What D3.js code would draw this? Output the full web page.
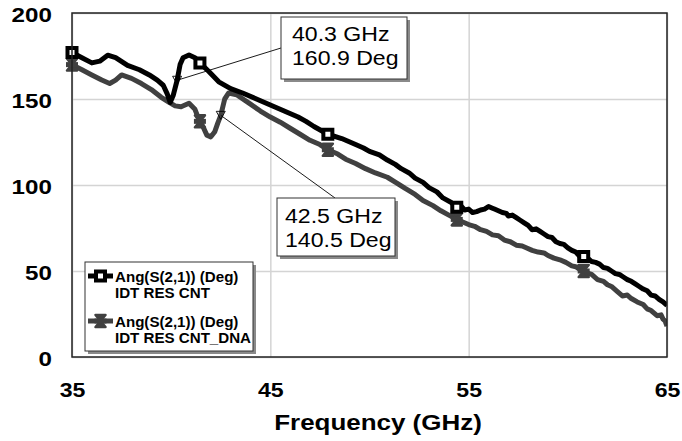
<!DOCTYPE html>
<html>
<head>
<meta charset="utf-8">
<script src="https://cdn.jsdelivr.net/npm/d3@7"></script>
<style>
  body { margin: 0; background: #fff; }
  svg { display: block; font-family: "Liberation Sans", Arial, sans-serif; }
</style>
</head>
<body>
<svg id="chart" width="682" height="441"></svg>
<script>
// ---- data ----
const xTicks = [35, 45, 55, 65];
const yTicks = [0, 50, 100, 150, 200];

const cntFreq = [35.0, 35.5, 36.0, 36.4, 36.8, 37.2, 37.8, 38.4, 38.9, 39.3, 39.6, 39.8, 39.95, 40.1, 40.3, 40.45, 40.6, 40.9, 41.2, 41.45,
  41.9, 42.4, 43.0, 43.6, 44.3, 45.0, 45.7, 46.4, 46.8, 47.2, 47.9, 48.6, 49.3, 49.7, 50.0, 50.5, 50.9, 51.3, 51.6, 52.0, 52.3, 52.7,
  53.0, 53.4, 53.7, 54.1, 54.4, 54.6, 54.8, 55.0, 55.2, 55.4, 55.6, 55.8, 56.0, 56.2, 56.3, 56.5, 56.7, 56.9, 57.0, 57.2, 57.4, 57.6,
  57.8, 58.0, 58.2, 58.4, 58.6, 58.8, 59.0, 59.2, 59.4, 59.6, 59.8, 60.0, 60.2, 60.4, 60.6, 60.8, 61.0, 61.2, 61.4, 61.6, 61.8, 62.0,
  62.2, 62.4, 62.6, 62.8, 63.0, 63.2, 63.4, 63.6, 63.8, 64.0, 64.2, 64.4, 64.6, 64.8, 65.0];
const cntDeg = [177, 174, 171, 172, 175.5, 174, 169.5, 167, 164, 161, 158, 153, 148, 152, 160.9, 170, 174, 175.6, 174, 171,
  166, 160, 156, 153.5, 150, 146.5, 143, 139.5, 137, 134, 129.5, 127, 123.5, 121.5, 119.5, 117.5, 114.5, 112, 109.5, 107, 104, 101.5,
  98.5, 96, 92.5, 90, 87, 88, 85.5, 86, 84, 84.5, 85.5, 86, 87.5, 86.5, 86, 85, 84, 83.5, 82, 82.5, 81, 79.5,
  78, 76.5, 74, 74.5, 73, 71.5, 70, 69.5, 67, 66, 65.5, 63.5, 62, 61, 58.5, 58.5, 57.5, 55.5, 55, 54, 52, 51.5,
  50, 48.5, 48, 46.5, 45, 44, 42.5, 41, 39.5, 38.5, 36, 35.5, 33.5, 32, 30];

const dnaFreq = [35.0, 35.5, 36.0, 36.5, 36.9, 37.2, 37.5, 38.0, 38.5, 39.0, 39.5, 39.9, 40.2, 40.5, 40.9, 41.2, 41.4, 41.6, 41.8, 42.0,
  42.2, 42.35, 42.5, 42.7, 42.9, 43.3, 44.0, 44.5, 45.0, 45.5, 46.0, 46.5, 47.0, 47.5, 47.9, 48.4, 48.8, 49.3, 49.8, 50.3, 50.9,
  51.4, 51.8, 52.3, 52.7, 53.2, 53.6, 54.0, 54.4, 54.7, 55.0, 55.3, 55.6, 55.9, 56.2, 56.5, 56.8, 57.1, 57.4, 57.7, 57.9, 58.2,
  58.5, 58.8, 59.0, 59.3, 59.6, 59.9, 60.2, 60.4, 60.6, 60.8, 61.0, 61.2, 61.5, 61.8, 62.0, 62.2, 62.5, 62.75, 63.0, 63.2, 63.5,
  63.8, 64.0, 64.2, 64.5, 64.7, 64.8, 64.9, 65.0];
const dnaDeg = [170, 167, 164, 161, 159, 161, 164, 162, 159, 155.5, 151, 148, 146, 145.5, 147.5, 144, 138, 134, 129, 128,
  131, 136, 140.5, 150, 153.5, 152.5, 147, 143, 139.5, 136.5, 133, 129.5, 126, 123.5, 120.5, 118, 115, 112.5, 109.5, 107, 104.5,
  101, 98, 94.5, 91, 88, 85, 82.5, 80, 78.5, 77, 76, 74, 73, 71, 70.5, 68, 67, 65, 64.5, 63.5, 62,
  61, 60.5, 59, 57.5, 56.5, 55, 53, 52.5, 51, 50, 48.8, 48, 45, 44, 42, 41, 38, 35.5, 36, 34, 32,
  30.5, 28, 27, 24, 24.5, 22, 21, 18];

const seriesNames = ["Ang(S(2,1)) (Deg)", "Ang(S(2,1)) (Deg)"];
const seriesSubs = ["IDT RES CNT", "IDT RES CNT_DNA"];
const markerFreqs = [35, 41.45, 47.9, 54.4, 60.8];

const calloutFreq = [40.3, 42.5];
const calloutDeg = [160.9, 140.5];
const calloutLines = [["40.3 GHz", "160.9 Deg"], ["42.5 GHz", "140.5 Deg"]];

// ---- layout ----
const W = 682, H = 441;
const margin = { top: 13, right: 15, bottom: 84, left: 72 };
const innerW = W - margin.left - margin.right;
const innerH = H - margin.top - margin.bottom;
const colors = ["#000000", "#404040"];

const svg = d3.select("#chart");
const g = svg.append("g").attr("transform", `translate(${margin.left},${margin.top})`);

const x = d3.scaleLinear().domain([35, 65]).range([0, innerW]);
const y = d3.scaleLinear().domain([0, 200]).range([innerH, 0]);

// grid
g.append("g")
  .attr("transform", `translate(0,${innerH})`)
  .call(d3.axisBottom(x).tickValues(xTicks).tickSize(-innerH).tickFormat(""))
  .call(a => a.select(".domain").remove())
  .call(a => a.selectAll("line").attr("stroke", "#d4d4d4").attr("stroke-width", 1.5));
g.append("g")
  .call(d3.axisLeft(y).tickValues(yTicks).tickSize(-innerW).tickFormat(""))
  .call(a => a.select(".domain").remove())
  .call(a => a.selectAll("line").attr("stroke", "#d4d4d4").attr("stroke-width", 1.5));

// tick labels
g.append("g")
  .attr("transform", `translate(0,${innerH})`)
  .call(d3.axisBottom(x).tickValues(xTicks).tickSize(0).tickFormat(d3.format("d")))
  .call(a => a.select(".domain").remove())
  .call(a => a.selectAll("text")
    .attr("y", 40).attr("dy", null)
    .attr("font-size", 21).attr("font-weight", "bold").attr("fill", "#000")
    .attr("transform", "scale(1.1,1)"));
g.append("g")
  .call(d3.axisLeft(y).tickValues(yTicks).tickSize(0).tickFormat(d3.format("d")))
  .call(a => a.select(".domain").remove())
  .call(a => a.selectAll("text")
    .attr("x", -17.5).attr("dy", 8)
    .attr("font-size", 21).attr("font-weight", "bold").attr("fill", "#000")
    .attr("transform", "scale(1.15,1)"));

// axis title
svg.append("text")
  .attr("transform", `translate(378,430) scale(1.18,1)`)
  .attr("text-anchor", "middle")
  .attr("font-size", 22).attr("font-weight", "bold")
  .text("Frequency (GHz)");

// curves
const clip = svg.append("clipPath").attr("id", "plotclip")
  .append("rect").attr("width", innerW).attr("height", innerH);

const line = d3.line().x(d => x(d[0])).y(d => y(d[1]));
const series = [
  d3.zip(cntFreq, cntDeg),
  d3.zip(dnaFreq, dnaDeg)
];

const plot = g.append("g").attr("clip-path", "url(#plotclip)");
[1, 0].forEach(i => {
  plot.append("path")
    .datum(series[i])
    .attr("fill", "none")
    .attr("stroke", colors[i])
    .attr("stroke-width", 5)
    .attr("stroke-linejoin", "round")
    .attr("d", line);
});

// markers
const squarePath = "M-4.5,-4.5H4.5V4.5H-4.5Z";
const bowPath = "M-5,-6H5L-5,6H5Z";
function valueAt(f, ser) {
  const fx = ser.map(d => d[0]);
  const i = Math.max(1, Math.min(fx.length - 1, d3.bisectLeft(fx, f)));
  const a = ser[i - 1], b = ser[i];
  const t = (f - a[0]) / (b[0] - a[0]);
  return a[1] + t * (b[1] - a[1]);
}
function drawMarker(sel, i, px, py) {
  if (i === 0) {
    sel.append("path").attr("d", squarePath)
      .attr("transform", `translate(${px},${py})`)
      .attr("fill", "#fff").attr("stroke", colors[0]).attr("stroke-width", 4);
  } else {
    sel.append("path").attr("d", bowPath)
      .attr("transform", `translate(${px},${py})`)
      .attr("fill", colors[1]).attr("stroke", colors[1]).attr("stroke-width", 2.5)
      .attr("stroke-linejoin", "round");
    sel.append("rect").attr("x", px - 6).attr("y", py - 2.5).attr("width", 12).attr("height", 5)
      .attr("fill", colors[1]);
  }
}
[1, 0].forEach(i => {
  markerFreqs.forEach(f => drawMarker(g, i, x(f), y(valueAt(f, series[i]))));
});

// plot frame
g.append("rect")
  .attr("width", innerW).attr("height", innerH)
  .attr("fill", "none").attr("stroke", "#222").attr("stroke-width", 1.5);

// callouts
const boxes = [
  { x: 281, y: 17, w: 126, h: 62, tx: 292, ty: 41, ax: 281, ay: 48 },
  { x: 277, y: 198, w: 118, h: 58, tx: 285, ty: 223, ax: 335, ay: 198 }
];
boxes.forEach((b, i) => {
  const mx = margin.left + x(calloutFreq[i]);
  const my = margin.top + y(calloutDeg[i]);
  svg.append("line")
    .attr("x1", mx).attr("y1", my).attr("x2", b.ax).attr("y2", b.ay)
    .attr("stroke", "#000").attr("stroke-width", 0.9);
  svg.append("path")
    .attr("d", `M${mx - 4.5},${my - 4}H${mx + 4.5}L${mx},${my + 4}Z`)
    .attr("fill", "none").attr("stroke", "#000").attr("stroke-width", 0.9);
  svg.append("rect").attr("x", b.x + 3).attr("y", b.y + 3).attr("width", b.w).attr("height", b.h)
    .attr("fill", "#8a8a8a");
  svg.append("rect").attr("x", b.x).attr("y", b.y).attr("width", b.w).attr("height", b.h)
    .attr("fill", "#fff").attr("stroke", "#333").attr("stroke-width", 1);
  calloutLines[i].forEach((t, k) => {
    svg.append("text")
      .attr("transform", `translate(${b.tx},${b.ty + k * 24}) scale(1.1,1)`)
      .attr("font-size", 21).attr("fill", "#000")
      .text(t);
  });
});

// legend
const leg = svg.append("g").attr("transform", "translate(85,262)");
leg.append("rect").attr("x", 3).attr("y", 3).attr("width", 168).attr("height", 89).attr("fill", "#8a8a8a");
leg.append("rect").attr("width", 168).attr("height", 89)
  .attr("fill", "#fff").attr("stroke", "#333").attr("stroke-width", 1);
seriesNames.forEach((name, i) => {
  const cy = 14 + i * 45;
  leg.append("line").attr("x1", 3).attr("x2", 28).attr("y1", cy).attr("y2", cy)
    .attr("stroke", colors[i]).attr("stroke-width", 5);
  drawMarker(leg, i, 15.5, cy);
  leg.append("text")
    .attr("transform", `translate(30,${cy + 6}) scale(1.08,1)`)
    .attr("font-size", 14).attr("font-weight", "bold")
    .text(name);
  leg.append("text")
    .attr("transform", `translate(30,${cy + 22}) scale(1.08,1)`)
    .attr("font-size", 14).attr("font-weight", "bold")
    .text(seriesSubs[i]);
});
</script>
</body>
</html>
